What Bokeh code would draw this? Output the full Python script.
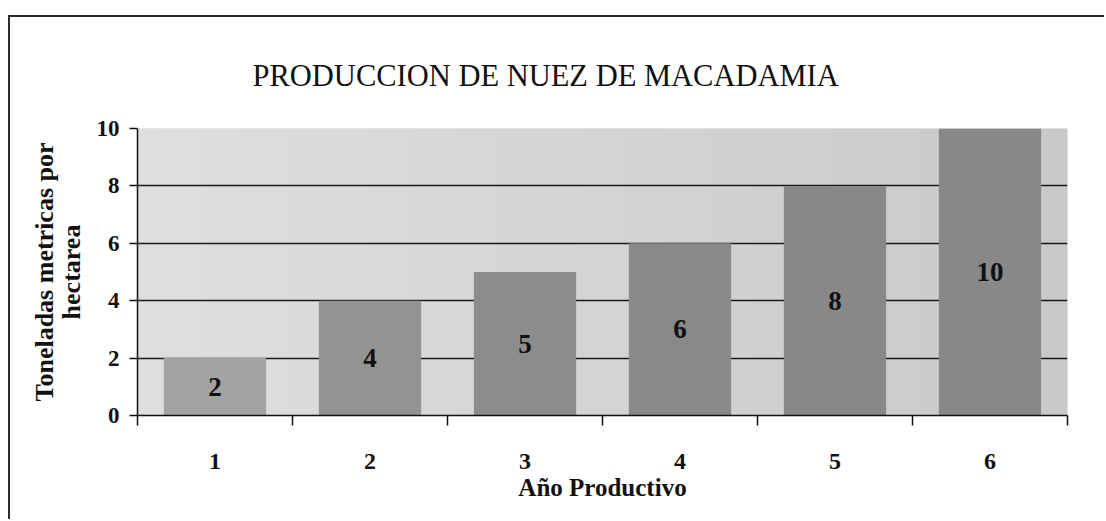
import numpy as np
from bokeh.plotting import figure
from bokeh.models import FixedTicker, Range1d
from bokeh.core.properties import value
from bokeh.embed import file_html
from bokeh.resources import INLINE

# ---- data ----
categories = ["1", "2", "3", "4", "5", "6"]
values = [2, 4, 5, 6, 8, 10]
y_ticks = [0, 2, 4, 6, 8, 10]
title_text = "PRODUCCION DE NUEZ DE MACADAMIA"
x_label = "Año Productivo"
y_label = "Toneladas metricas por\nhectarea"

# ---- style ----
bar_colors = ["#a3a3a3", "#939393", "#8c8c8c", "#898989", "#888888", "#888888"]
FONT = "Liberation Serif"

xpos = list(range(1, len(categories) + 1))
x0, x1 = 0.5, len(categories) + 0.5
y0, y1 = y_ticks[0], y_ticks[-1]

W, H = 1096, 504
p = figure(width=W, height=H,
           x_range=Range1d(x0, x1), y_range=Range1d(y0, y1),
           output_backend="svg", toolbar_location=None,
           min_border_left=127, min_border_right=39,
           min_border_top=111, min_border_bottom=106)

p.styles = {"margin-left": "8px", "margin-top": "15px",
            "border-left": "2px solid #2a2a2a", "border-top": "2px solid #2a2a2a"}

# gradient background of the plot area
nx = 256
g = np.linspace(0.0, 1.0, nx)
lum = np.round(223 - (223 - 201) * g).astype(np.uint8)
img = np.empty((1, nx), dtype=np.uint32)
view = img.view(dtype=np.uint8).reshape((1, nx, 4))
view[..., 0] = lum
view[..., 1] = lum
view[..., 2] = lum
view[..., 3] = 255
p.image_rgba(image=[img], x=x0, y=y0, dw=x1 - x0, dh=y1 - y0, level="image")

p.vbar(x=xpos, top=values, width=0.66, fill_color=bar_colors, line_color=None)

p.text(x=xpos, y=[v / 2 for v in values], text=[str(v) for v in values],
       text_align="center", text_baseline="middle",
       text_font=value(FONT), text_font_style="bold", text_font_size="27px",
       text_color="#111111")

# title
p.title.text = title_text
p.title.text_font = FONT
p.title.text_font_size = "30.5px"
p.title.text_font_style = "normal"
p.title.text_color = "#111111"
p.title.align = "left"
p.title.offset = 115
p.title.standoff = 71

# x axis
xaxis = p.below[0]
xaxis.ticker = FixedTicker(ticks=xpos, minor_ticks=[x0 + i for i in range(len(categories) + 1)])
xaxis.major_label_overrides = {i: c for i, c in zip(xpos, categories)}
xaxis.major_tick_out = 0
xaxis.major_tick_in = 0
xaxis.minor_tick_out = 10
xaxis.minor_tick_in = 0
xaxis.minor_tick_line_color = "#111111"
xaxis.minor_tick_line_width = 1.5
xaxis.major_label_standoff = 28
xaxis.axis_label = x_label
xaxis.axis_label_standoff = 2

# y axis
yaxis = p.left[0]
yaxis.ticker = FixedTicker(ticks=y_ticks)
yaxis.major_tick_out = 8
yaxis.major_tick_in = 0
yaxis.minor_tick_line_color = None
yaxis.major_label_standoff = 10
yaxis.axis_label = y_label
yaxis.axis_label_standoff = 8
yaxis.axis_label_text_align = "center"
yaxis.axis_label_text_line_height = 0.9

for ax in (xaxis, yaxis):
    ax.axis_line_color = "#111111"
    ax.axis_line_width = 1.5
    ax.major_tick_line_color = "#111111"
    ax.major_tick_line_width = 1.5
    ax.major_label_text_font = FONT
    ax.major_label_text_font_style = "bold"
    ax.major_label_text_color = "#111111"
    ax.axis_label_text_font = FONT
    ax.axis_label_text_font_style = "bold"
    ax.axis_label_text_color = "#111111"

xaxis.major_label_text_font_size = "24px"
yaxis.major_label_text_font_size = "23px"
xaxis.axis_label_text_font_size = "25px"
yaxis.axis_label_text_font_size = "26px"

p.xgrid.visible = False
p.ygrid.ticker = FixedTicker(ticks=y_ticks[1:-1])
p.ygrid.grid_line_color = "#1a1a1a"
p.ygrid.grid_line_width = 1.6

p.outline_line_color = None
p.background_fill_color = "#d4d4d4"
p.border_fill_color = "white"

open("out.html", "w").write(file_html(p, INLINE))
